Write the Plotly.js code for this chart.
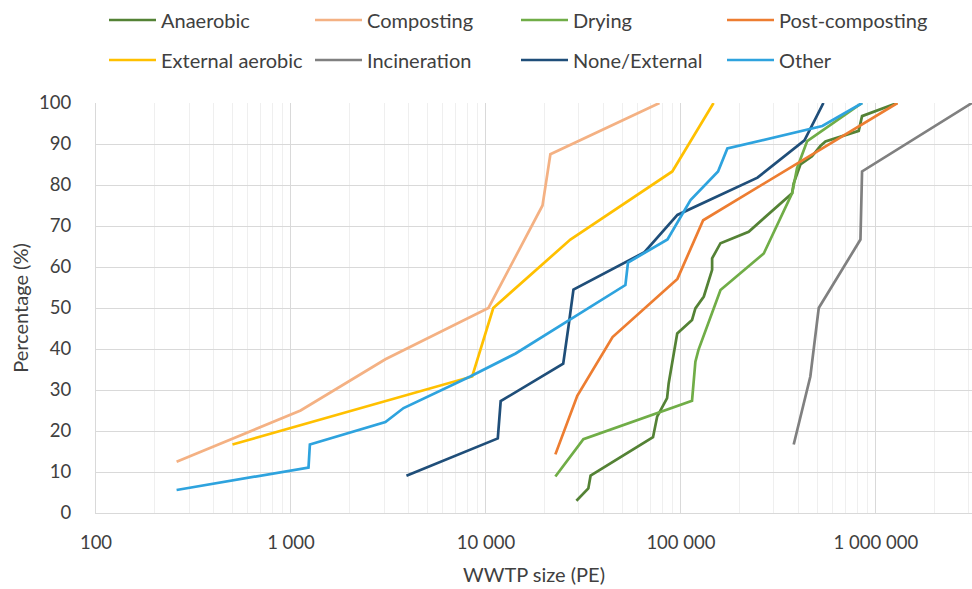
<!DOCTYPE html>
<html>
<head>
<meta charset="utf-8">
<script src="https://cdn.plot.ly/plotly-3.0.1.min.js"></script>
<style>
  html, body { margin: 0; padding: 0; background: #ffffff; }
  #chart { width: 972px; height: 589px; }
</style>
</head>
<body>
<div id="chart"></div>
<script>
// ---- Data (WWTP size in PE vs cumulative percentage) ----
const seriesNames = ["Anaerobic", "Composting", "Drying", "Post-composting",
                     "External aerobic", "Incineration", "None/External", "Other"];

const anaerobicX = [29100, 33500, 34400, 71900, 75500, 84900, 86500, 95700, 114000, 118600, 131000, 144500, 144500, 159500, 222600, 260800, 371600, 378700, 410000, 470000, 519000, 551000, 816000, 849000, 1285000];
const anaerobicY = [3.0, 6.0, 9.1, 18.5, 23.5, 28.0, 31.6, 43.8, 47.1, 49.9, 52.8, 59.3, 62.1, 65.8, 68.6, 71.5, 78.0, 80.4, 85.0, 87.0, 89.5, 90.6, 93.2, 96.8, 100];

const compostingX = [259, 1120, 3050, 10300, 19500, 21400, 77600];
const compostingY = [12.5, 25, 37.5, 50, 75, 87.5, 100];

const dryingX = [22700, 31600, 114000, 118600, 123000, 159500, 266000, 346000, 372000, 394000, 444000, 849000];
const dryingY = [8.9, 18.0, 27.4, 36.9, 39.8, 54.4, 63.3, 74.9, 78.0, 84.1, 90.7, 100];

const postCompX = [22700, 29400, 44600, 95900, 130000, 410000, 1290000];
const postCompY = [14.3, 28.6, 42.9, 57.1, 71.4, 85.7, 100];

const extAerobicX = [501, 8500, 10900, 27100, 90300, 147000];
const extAerobicY = [16.7, 33.3, 50, 66.7, 83.3, 100];

const incinerationX = [378700, 461000, 509000, 833000, 849000, 3110000];
const incinerationY = [16.7, 33.3, 50, 66.7, 83.3, 100];

const noneExtX = [3910, 11500, 11900, 24900, 26500, 28100, 65000, 95900, 247000, 430000, 538000];
const noneExtY = [9.1, 18.2, 27.3, 36.4, 45.5, 54.5, 63.6, 72.7, 81.8, 90.9, 100];

const otherX = [259, 1230, 1250, 3050, 3780, 8300, 14200, 51900, 53500, 85300, 112000, 155000, 173000, 531000, 851000];
const otherY = [5.6, 11.1, 16.7, 22.2, 25.6, 33.3, 38.9, 55.6, 61.1, 66.7, 76.3, 83.3, 88.9, 94.4, 100];

const xTickVals = [100, 1000, 10000, 100000, 1000000];
const xTickText = ["100", "1 000", "10 000", "100 000", "1 000 000"];

// ---- Styles ----
const colors = ["#548235", "#f4b183", "#70ad47", "#ed7d31",
                "#ffc000", "#808080", "#1f4e79", "#2ea3de"];
const xs = [anaerobicX, compostingX, dryingX, postCompX, extAerobicX, incinerationX, noneExtX, otherX];
const ys = [anaerobicY, compostingY, dryingY, postCompY, extAerobicY, incinerationY, noneExtY, otherY];

const FONT = 'Lato, "Open Sans", "DejaVu Sans", sans-serif';
const TXT = "#404040";

const traces = seriesNames.map((name, i) => ({
  type: "scatter",
  mode: "lines",
  name: name,
  x: xs[i],
  y: ys[i],
  line: { color: colors[i], width: 2.7 },
  legend: i < 4 ? "legend" : "legend2",
  hoverinfo: "x+y+name"
}));

// minor gridlines positions (layout only)
const minorVals = [];
for (let d = 100; d <= 1000000; d *= 10) {
  for (let k = 2; k <= 9; k++) minorVals.push(d * k);
}

const legendBase = {
  orientation: "h",
  xref: "container", yref: "container",
  xanchor: "left", yanchor: "middle",
  entrywidth: 144, entrywidthmode: "pixels",
  itemwidth: 47,
  font: { family: FONT, size: 20, color: TXT },
  bgcolor: "rgba(0,0,0,0)",
  borderwidth: 0
};

const layout = {
  width: 972, height: 589,
  margin: { l: 96, r: 0, t: 103, b: 76 },
  paper_bgcolor: "#ffffff",
  plot_bgcolor: "#ffffff",
  font: { family: FONT, size: 18, color: TXT },
  showlegend: true,
  legend: Object.assign({}, legendBase, { x: 104 / 972, y: 1 - 20 / 589 }),
  legend2: Object.assign({}, legendBase, { x: 104 / 972, y: 1 - 60 / 589 }),
  xaxis: {
    type: "log",
    range: [2, Math.log10(3110000)],
    tickmode: "array",
    tickvals: xTickVals,
    ticktext: xTickText,
    ticks: "",
    ticklabelstandoff: 13,
    tickfont: { family: FONT, size: 18.5, color: TXT },
    showgrid: true,
    gridcolor: "#d9d9d9",
    gridwidth: 1,
    minor: { tickmode: "array", tickvals: minorVals, showgrid: true, gridcolor: "#efefef", gridwidth: 1, ticks: "" },
    showline: true,
    linecolor: "#d9d9d9",
    linewidth: 1,
    zeroline: false,
    title: { text: "WWTP size (PE)", font: { family: FONT, size: 20, color: TXT }, standoff: 15 }
  },
  yaxis: {
    range: [0, 100],
    tickmode: "linear",
    tick0: 0,
    dtick: 10,
    ticks: "",
    ticklabelstandoff: 20,
    tickfont: { family: FONT, size: 18.5, color: TXT },
    showgrid: true,
    gridcolor: "#d9d9d9",
    gridwidth: 1,
    showline: true,
    linecolor: "#d9d9d9",
    linewidth: 1,
    zeroline: false,
    title: { text: "Percentage (%)", font: { family: FONT, size: 20, color: TXT }, standoff: 5 }
  }
};

Plotly.newPlot("chart", traces, layout, { displayModeBar: false, staticPlot: true });
</script>
</body>
</html>
